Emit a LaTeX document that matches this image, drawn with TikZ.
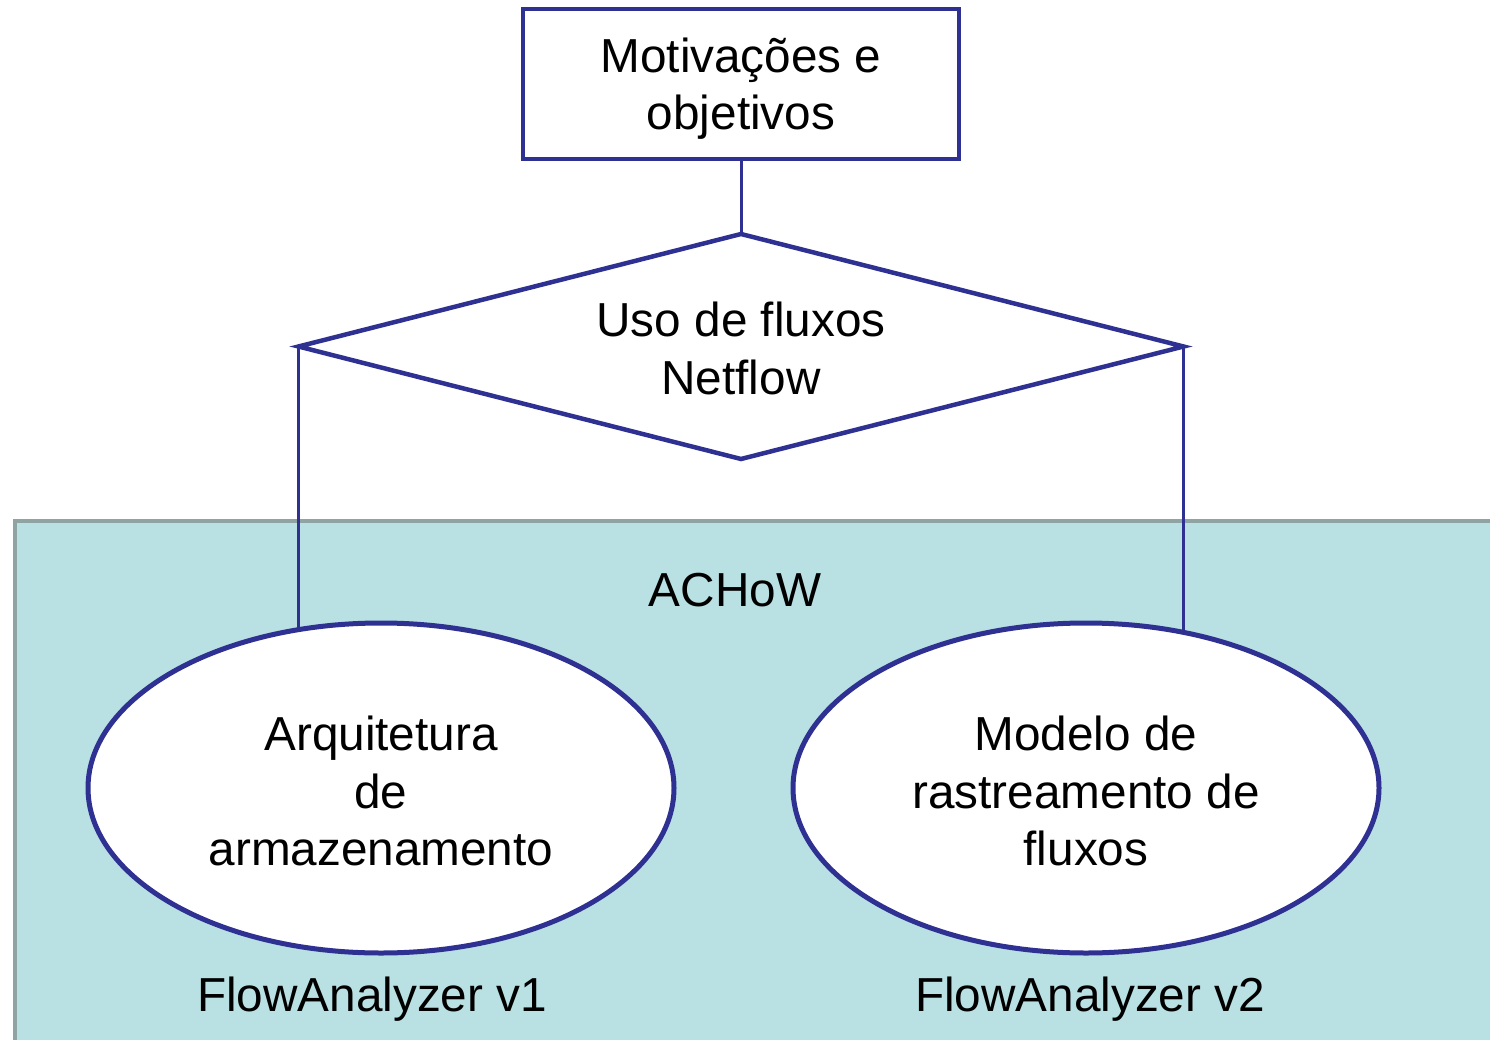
\documentclass[tikz,border=0pt]{standalone}
\usepackage{fontspec}
\setmainfont{Liberation Sans}
\usetikzlibrary{shapes.geometric}
\definecolor{navy}{RGB}{46,49,146}
\definecolor{achowfill}{RGB}{185,224,227}
\definecolor{achowborder}{RGB}{143,163,163}
\newcommand\dnby[2]{\raisebox{-#1}[\height][\depth]{#2}}
\pgfdeclarelayer{bottom}
\pgfdeclarelayer{mid}
\pgfsetlayers{bottom,mid,main}
\begin{document}
\begin{tikzpicture}[x=1pt,y=-1pt,
  txt/.style={font=\fontsize{47.7}{57.2}\selectfont, align=center, text=black, inner sep=0pt},
  boxnode/.style={txt, draw=navy, line width=4pt, fill=white, minimum width=436pt, minimum height=150pt},
  dianode/.style={txt, diamond, draw=navy, line width=4.5pt, fill=white, aspect=3.93, minimum width=885pt, minimum height=225pt, outer sep=0pt},
  ellnode/.style={txt, ellipse, draw=navy, line width=5pt, fill=white, minimum width=586pt, minimum height=330pt},
  conn/.style={draw=navy, line width=3pt},
  region/.style={draw=achowborder, fill=achowfill, line width=4pt, inner sep=0pt, anchor=north west, minimum width=1500pt, minimum height=540pt},
  lbl/.style={txt, anchor=base}
]
\begin{pgfonlayer}{bottom}
  \fill[white] (0,0) rectangle (1490,1040);
\end{pgfonlayer}
\useasboundingbox (0,0) rectangle (1490,1040);

\node[boxnode] (mot) at (741,84) {\dnby{5pt}{Motivações e}\\\dnby{5pt}{objetivos}};
\node[dianode] (uso) at (741,346.5) {\dnby{2pt}{Uso de fluxos}\\\dnby{2pt}{Netflow}};
\node[ellnode] (arq) at (381,788) {\dnby{3pt}{Arquitetura}\\\dnby{3pt}{de}\\\dnby{3pt}{armazenamento}};
\node[ellnode] (mod) at (1086,788) {\dnby{3pt}{Modelo de}\\\dnby{3pt}{rastreamento de}\\\dnby{3pt}{fluxos}};

\begin{pgfonlayer}{bottom}
  \node[region] (achowbox) at (13,519) {};
\end{pgfonlayer}

\node[lbl] (achow) at (735,606) {ACHoW};
\node[lbl] (fa1) at (372,1011) {FlowAnalyzer v1};
\node[lbl] (fa2) at (1090,1011) {FlowAnalyzer v2};

\begin{pgfonlayer}{mid}
  \draw[conn] (mot.south) -- (uso.north);
  \draw[conn] (uso.west) -- (uso.west |- arq.center);
  \draw[conn] (uso.east) -- (uso.east |- mod.center);
\end{pgfonlayer}
\end{tikzpicture}
\end{document}
